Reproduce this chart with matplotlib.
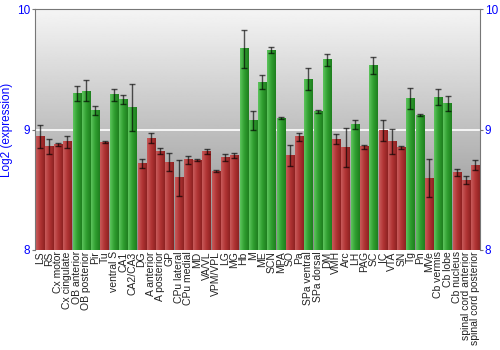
import numpy as np
import matplotlib
matplotlib.use('Agg')
from matplotlib import pyplot as plt
from matplotlib.colors import LinearSegmentedColormap

plt.rcParams['font.family'] = ['Liberation Sans', 'DejaVu Sans']

# brain regions, mean log2 expression and error
regions = ['LS', 'RS', 'Cx motor', 'Cx cingulate', 'OB anterior', 'OB posterior',
           'Pir', 'Tu', 'ventral S', 'CA1', 'CA2/CA3', 'DG', 'A anterior',
           'A posterior', 'GP', 'CPu lateral', 'CPu medial', 'MD', 'VA/VL',
           'VPM/VPL', 'LG', 'MG', 'Hb', 'M', 'ME', 'SCN', 'MPA', 'SO', 'Pa',
           'SPa ventral', 'SPa dorsal', 'DM', 'VMH', 'Arc', 'LH', 'PAG', 'SC',
           'IC', 'VTA', 'SN', 'Tg', 'Pn', 'MVe', 'Cb vermis', 'Cb lobe',
           'Cb nucleus', 'spinal cord anterior', 'spinal cord posterior']
expression = [8.94, 8.86, 8.876, 8.90, 9.30, 9.32, 9.157, 8.895, 9.29, 9.25,
              9.18, 8.72, 8.93, 8.82, 8.73, 8.60, 8.75, 8.746, 8.82, 8.656,
              8.77, 8.785, 9.67, 9.074, 9.394, 9.66, 9.094, 8.785, 8.94, 9.42,
              9.15, 9.58, 8.92, 8.85, 9.04, 8.857, 9.53, 8.99, 8.90, 8.85,
              9.256, 9.12, 8.595, 9.27, 9.218, 8.64, 8.58, 8.705]
error = [0.094, 0.06, 0.014, 0.05, 0.065, 0.087, 0.04, 0.008, 0.05, 0.04,
         0.195, 0.037, 0.045, 0.025, 0.074, 0.15, 0.033, 0.011, 0.022, 0.008,
         0.028, 0.02, 0.16, 0.08, 0.055, 0.025, 0.006, 0.09, 0.032, 0.094,
         0.01, 0.05, 0.044, 0.164, 0.036, 0.017, 0.069, 0.087, 0.106, 0.011,
         0.085, 0.006, 0.156, 0.07, 0.061, 0.03, 0.033, 0.039]
# 1 = enriched (green), 0 = not (red)
enriched = [0, 0, 0, 0, 1, 1, 1, 0, 1, 1, 1, 0, 0, 0, 0, 0, 0, 0, 0, 0, 0, 0,
            1, 1, 1, 1, 1, 0, 0, 1, 1, 1, 0, 0, 1, 0, 1, 0, 0, 0, 1, 1, 0, 1,
            1, 0, 0, 0]

ymin, ymax = 8, 10
blue = '#0000ff'

fig = plt.figure(figsize=(5, 3.5), dpi=100)
ax = fig.add_axes([0.07, 0.286, 0.89, 0.688])

n = len(regions)
x = np.arange(n)
ax.set_xlim(-0.5, n - 0.5)
ax.set_ylim(ymin, ymax)

# grey vertical gradient behind the bars
bg = np.linspace(0.54, 0.96, 256).reshape(-1, 1)
ax.imshow(bg, cmap='gray', vmin=0, vmax=1, aspect='auto', origin='lower',
          extent=(-0.5, n - 0.5, ymin, ymax), zorder=0)
ax.axhline(9, color='white', lw=1.2, zorder=1)

red_cm = LinearSegmentedColormap.from_list('r', ['#c85a5a', '#b03434', '#8e2222'])
green_cm = LinearSegmentedColormap.from_list('g', ['#5cc45c', '#2f9e2f', '#1f7f1f'])
shade = np.linspace(0, 1, 32).reshape(1, -1)
width = 0.88
for xi, val, en in zip(x, expression, enriched):
    cm = green_cm if en else red_cm
    ax.imshow(shade, cmap=cm, aspect='auto',
              extent=(xi - width / 2, xi + width / 2, ymin, val), zorder=2)

ax.errorbar(x, expression, yerr=error, fmt='none', ecolor='black', elinewidth=1,
            capsize=2.5, capthick=1, alpha=0.65, zorder=3)

ax.set_xticks(x)
ax.set_xticklabels(regions, rotation=90, fontsize=7.5, color='#222222')
ax.tick_params(axis='x', length=0, pad=1)

ax.set_yticks([8, 9, 10])
ax.tick_params(axis='y', colors='#777777', labelcolor=blue, labelsize=8.5,
               length=2.5, pad=1, direction='out', right=True, labelright=True)
ax.set_ylabel('Log2 (expression)', color=blue, fontsize=8.5, labelpad=3)

for side in ['left', 'right', 'top']:
    ax.spines[side].set_color('#777777')
ax.spines['bottom'].set_visible(False)

fig.savefig('out.png', dpi=100)
